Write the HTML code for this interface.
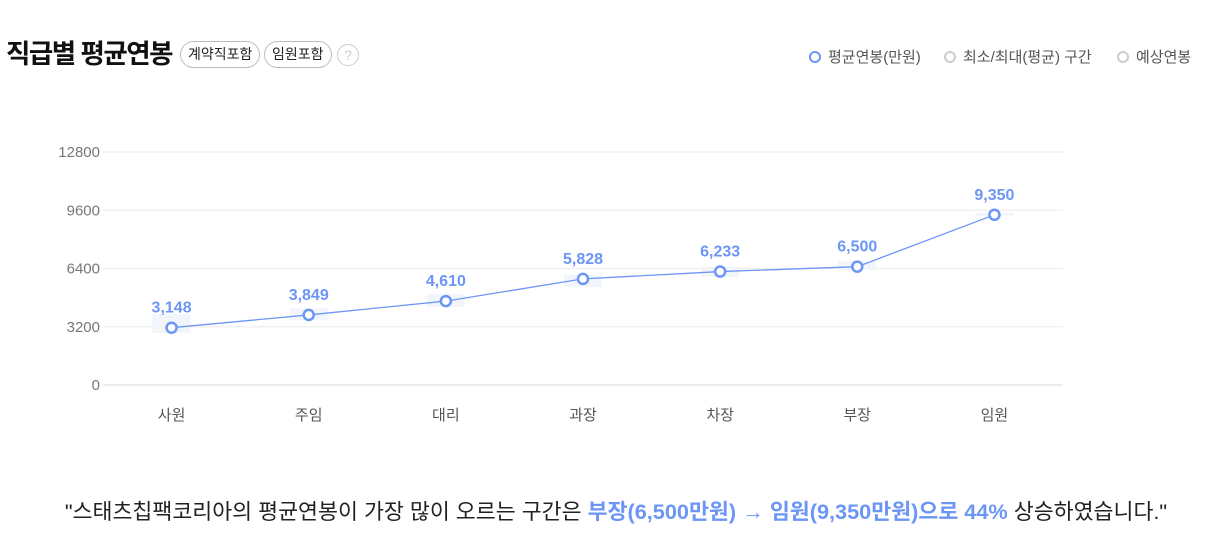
<!DOCTYPE html>
<html><head><meta charset="utf-8"><style>
body{margin:0;background:#fff;width:1232px;height:548px;overflow:hidden;font-family:"Liberation Sans","Noto Sans CJK KR",sans-serif;position:relative}
.title{position:absolute;left:6px;top:32px;font-size:26.5px;font-weight:bold;color:#111;letter-spacing:-1.5px}
.chip{position:absolute;top:41px;height:27px;border:1px solid #bbb;border-radius:14px;font-size:14px;line-height:25px;padding:0 7px;color:#222;box-sizing:border-box}
.help{position:absolute;left:337px;top:44px;width:22px;height:22px;border:1px solid #ccc;border-radius:50%;color:#ccc;font-size:14px;text-align:center;line-height:20px;box-sizing:border-box}
.leg{position:absolute;top:46px;font-size:15px;color:#555}
.leg i{display:inline-block;width:8px;height:8px;border-radius:50%;border:2px solid #ccc;margin-right:7px;vertical-align:-1px}
.foot{position:absolute;left:0;width:1232px;top:495px;text-align:center;font-size:21.7px;color:#222}
.foot b{color:#6c96f5}
</style></head><body>
<div class="title">직급별 평균연봉</div>
<div class="chip" style="left:180px">계약직포함</div>
<div class="chip" style="left:264px">임원포함</div>
<div class="help">?</div>
<div class="leg" style="left:809px"><i style="border-color:#6c96f5"></i>평균연봉(만원)</div>
<div class="leg" style="left:944px"><i></i>최소/최대(평균) 구간</div>
<div class="leg" style="left:1117px"><i></i>예상연봉</div>
<svg id="chart" width="1232" height="548" style="position:absolute;left:0;top:0"></svg>
<div class="foot">"스태츠칩팩코리아의 평균연봉이 가장 많이 오르는 구간은 <b>부장(6,500만원) → 임원(9,350만원)으로 44%</b> 상승하였습니다."</div>
<script>
const categories=["사원","주임","대리","과장","차장","부장","임원"];
const avgValues=[3148,3849,4610,5828,6233,6500,9350];
const minValues=[2857,3571,4285,5385,5934,6319,9286];
const maxValues=[3900,4200,5000,6044,6500,6800,9450];
const yTicks=[0,3200,6400,9600,12800];
const NS="http://www.w3.org/2000/svg";
const svg=document.getElementById('chart');
const x0=103,x1=1063,y0=385,y1=152,yMax=12800;
const step=(x1-x0)/categories.length;
const X=i=>x0+step*(i+0.5);
const Y=v=>y0-(v/yMax)*(y0-y1);
function mk(t,a){const e=document.createElementNS(NS,t);for(const k in a)e.setAttribute(k,a[k]);svg.appendChild(e);return e;}
yTicks.forEach(t=>{
 const l=mk('line',{x1:x0,x2:x1,y1:Y(t),y2:Y(t),stroke:t===0?'#e6e6e6':'#f1f1f1','stroke-width':1.5});
 
 
 const tx=mk('text',{x:100,y:Y(t)+5,'text-anchor':'end','font-size':15,fill:'#777'});
 tx.textContent=t;
 
 
});
categories.forEach((c,i)=>{
 const tx=mk('text',{x:X(i),y:420,'text-anchor':'middle','font-size':15,fill:'#555'});
 tx.textContent=c;
 
 
 const r=mk('rect',{x:X(i)-19,y:Y(maxValues[i]),width:38,height:Math.max(3,Y(minValues[i])-Y(maxValues[i])),fill:'#f2f5fa'});
 
 
});
const pl=mk('polyline',{points:avgValues.map((v,i)=>X(i)+','+Y(v)).join(' '),fill:'none',stroke:'#6c96f5','stroke-width':1.3});


avgValues.forEach((v,i)=>{
 const c=mk('circle',{cx:X(i),cy:Y(v),r:5,fill:'#fff',stroke:'#6c96f5','stroke-width':2.5});
 
 
 const t=mk('text',{x:X(i),y:Y(v)-15,'text-anchor':'middle','font-size':16,'font-weight':'bold',fill:'#6c96f5'});
 t.textContent=v.toLocaleString('en-US');
 
 
});
</script>
</body></html>
